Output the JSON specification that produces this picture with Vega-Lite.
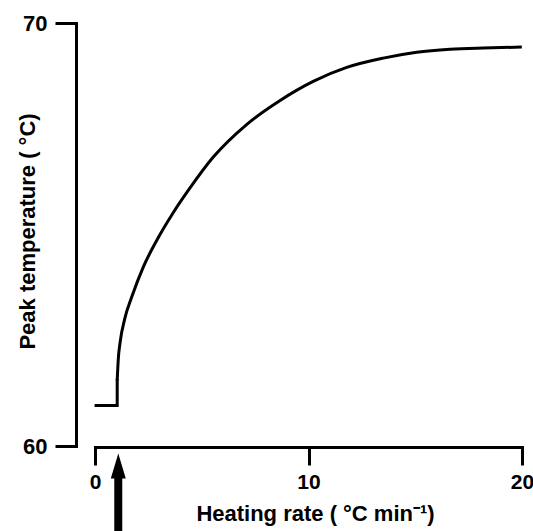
{
  "$schema": "https://vega.github.io/schema/vega-lite/v6.json",
  "width": 427,
  "height": 423,
  "autosize": {"type": "none"},
  "padding": {"left": 95, "top": 23, "right": 11, "bottom": 85},
  "config": {"view": {"stroke": null}, "font": "Liberation Sans"},
  "datasets": {
    "flat": [
      {"i": 1, "rate": 0.05, "temp": 60.96},
      {"i": 2, "rate": 1.04, "temp": 60.96},
      {"i": 3, "rate": 1.04, "temp": 61.55}
    ],
    "curve": [
      {"rate": 1.04, "temp": 61.55},
      {"rate": 1.09, "temp": 62.05},
      {"rate": 1.17, "temp": 62.43},
      {"rate": 1.41, "temp": 63.04},
      {"rate": 1.72, "temp": 63.52},
      {"rate": 2.26, "temp": 64.23},
      {"rate": 2.89, "temp": 64.86},
      {"rate": 3.67, "temp": 65.52},
      {"rate": 4.45, "temp": 66.1},
      {"rate": 5.54, "temp": 66.83},
      {"rate": 7.1, "temp": 67.6},
      {"rate": 8.67, "temp": 68.17},
      {"rate": 10.22, "temp": 68.62},
      {"rate": 11.79, "temp": 68.95},
      {"rate": 13.5, "temp": 69.17},
      {"rate": 15.07, "temp": 69.31},
      {"rate": 16.63, "temp": 69.38},
      {"rate": 18.19, "temp": 69.41},
      {"rate": 19.99, "temp": 69.43}
    ],
    "arrow": [{"x": 1.09, "y0": 57.8, "y1": 59.3, "yh": 59.53}]
  },
  "layer": [
    {
      "data": {"name": "flat"},
      "mark": {"type": "line", "color": "black", "strokeWidth": 3, "strokeCap": "square", "strokeJoin": "miter"},
      "encoding": {
        "x": {
          "field": "rate", "type": "quantitative",
          "scale": {"domain": [0, 20], "nice": false, "zero": false},
          "axis": {
            "values": [0, 10, 20], "offset": 1, "grid": false,
            "tickSize": 18, "tickWidth": 3, "tickColor": "black",
            "domainWidth": 3, "domainColor": "black", "domainCap": "square",
            "labelFontSize": 21, "labelFontWeight": "bold", "labelColor": "black",
            "labelPadding": 6, "labelFlush": false, "labelOverlap": false, "labelDx": -4,
            "title": "Heating rate ( °C min⁻¹)",
            "titleFontSize": 22, "titleFontWeight": "bold", "titleColor": "black",
            "titleX": 220, "titleY": 73, "titleBaseline": "alphabetic", "titleAlign": "center"
          }
        },
        "y": {
          "field": "temp", "type": "quantitative",
          "scale": {"domain": [60, 70], "nice": false, "zero": false},
          "axis": {
            "values": [60, 70], "offset": 19, "grid": false,
            "tickSize": 21, "tickWidth": 3, "tickColor": "black",
            "domainWidth": 3, "domainColor": "black", "domainCap": "square",
            "labelFontSize": 22, "labelFontWeight": "bold", "labelColor": "black",
            "labelPadding": 8, "labelBaseline": "middle", "labelDy": 2, "labelFlush": false,
            "title": "Peak temperature ( °C)",
            "titleFontSize": 22, "titleFontWeight": "bold", "titleColor": "black",
            "titleAngle": -90, "titleX": -42, "titleY": 208, "titleBaseline": "alphabetic", "titleAlign": "center"
          }
        },
        "order": {"field": "i", "type": "quantitative"}
      }
    },
    {
      "data": {"name": "curve"},
      "mark": {"type": "line", "color": "black", "strokeWidth": 3, "interpolate": "monotone"},
      "encoding": {
        "x": {"field": "rate", "type": "quantitative"},
        "y": {"field": "temp", "type": "quantitative"}
      }
    },
    {
      "data": {"name": "arrow"},
      "mark": {"type": "rule", "color": "black", "strokeWidth": 8},
      "encoding": {
        "x": {"field": "x", "type": "quantitative"},
        "y": {"field": "y0", "type": "quantitative"},
        "y2": {"field": "y1"}
      }
    },
    {
      "data": {"name": "arrow"},
      "mark": {"type": "point", "shape": "M0,-1L0.6,1L-0.6,1Z", "filled": true, "color": "black", "opacity": 1, "size": 625},
      "encoding": {
        "x": {"field": "x", "type": "quantitative"},
        "y": {"field": "yh", "type": "quantitative"}
      }
    }
  ]
}
